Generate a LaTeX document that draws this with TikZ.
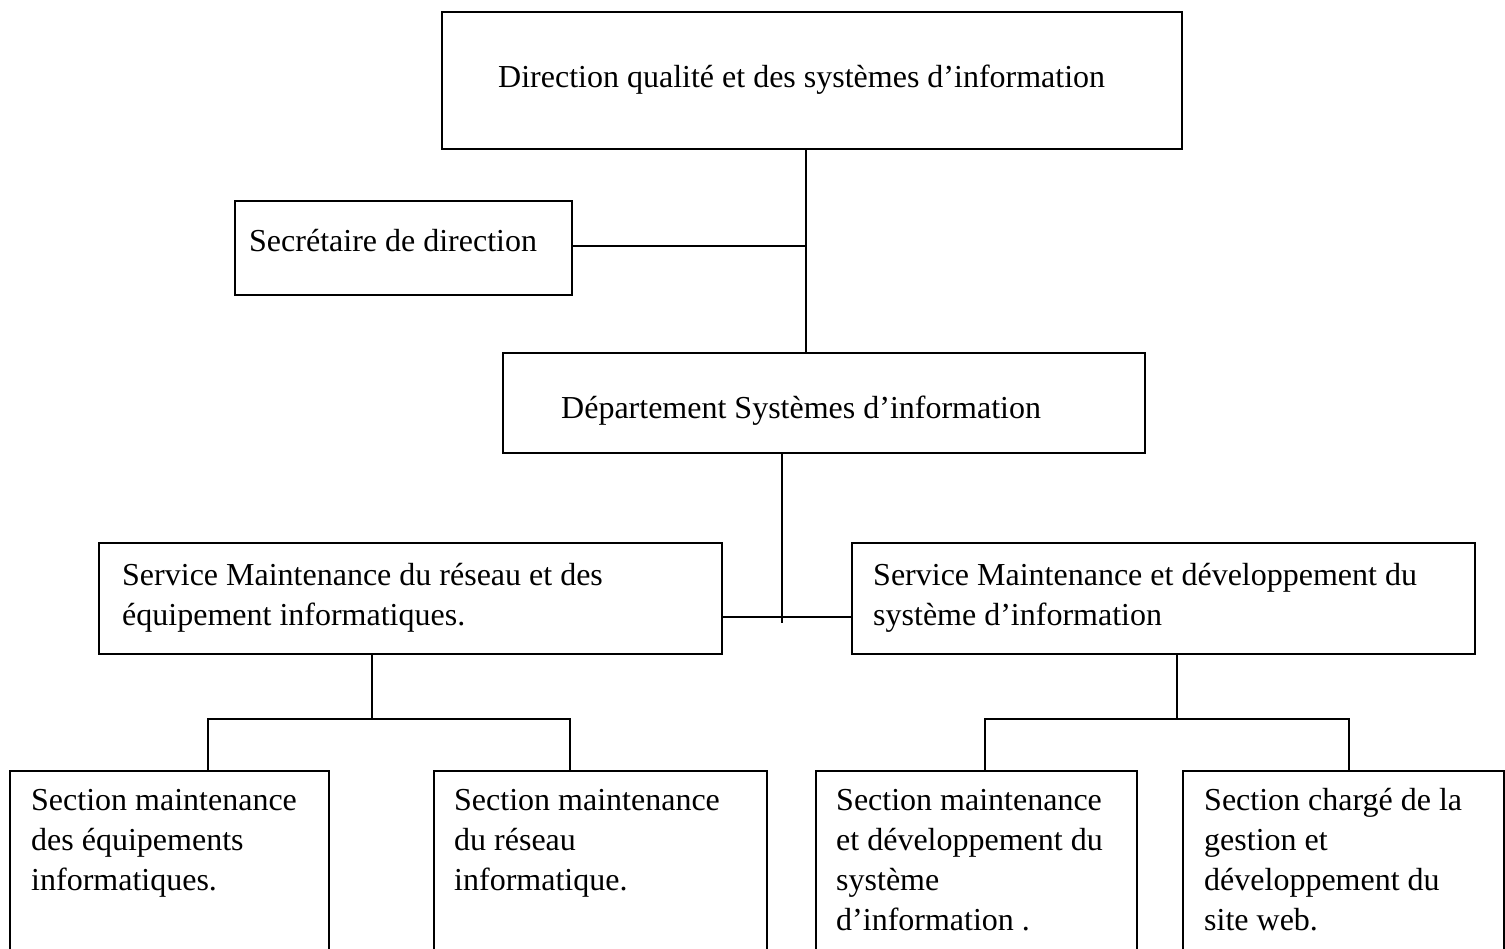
\documentclass[tikz,border=0pt]{standalone}
\usepackage{fontspec}
\setmainfont{Liberation Serif}
\usetikzlibrary{calc}

\tikzset{
  boite/.style={draw,line width=2.4pt,inner sep=0pt,anchor=north west},
  texte/.style={anchor=base west,inner sep=0pt,align=left,
    font=\fontsize{32}{39.7}\selectfont},
  lien/.style={line width=2.8pt},
  lienfin/.style={line width=1.8pt}
}

\begin{document}
\begin{tikzpicture}[x=1pt,y=-1pt]
\useasboundingbox (0,0) rectangle (1505,949);
\clip (0,0) rectangle (1505,949);

% boites
\node[boite,minimum width=740,minimum height=137] (dir) at (441,11) {};
\node[boite,minimum width=337,minimum height=94] (secr) at (234,200) {};
\node[boite,minimum width=642,minimum height=100] (dept) at (502,352) {};
\node[boite,minimum width=623,minimum height=111] (servA) at (98,542) {};
\node[boite,minimum width=623,minimum height=111] (servB) at (851,542) {};
\node[boite,minimum width=319,minimum height=240] (sectA) at (9,770) {};
\node[boite,minimum width=333,minimum height=240] (sectB) at (433,770) {};
\node[boite,minimum width=321,minimum height=240] (sectC) at (815,770) {};
\node[boite,minimum width=321,minimum height=240] (sectD) at (1182,770) {};

% textes (base = ligne du bas)
\node[texte] (dirT) at (498,88) {Direction qualité et des systèmes d’information};
\node[texte] (secrT) at (249,252) {Secrétaire de direction};
\node[texte] (deptT) at (561,419) {Département Systèmes d’information};
\node[texte] (servAT) at (122,625) {Service Maintenance du réseau et des\\équipement informatiques.};
\node[texte] (servBT) at (873,625) {Service Maintenance et développement du\\système d’information};
\node[texte] (sectAT) at (31,890) {Section maintenance\\des équipements\\informatiques.};
\node[texte] (sectBT) at (454,890) {Section maintenance\\du réseau\\informatique.};
\node[texte] (sectCT) at (836,930) {Section maintenance\\et développement du\\système\\d’information .};
\node[texte] (sectDT) at (1204,930) {Section chargé de la\\gestion et\\développement du\\site web.};

% jonctions
\coordinate (j1) at (806,246);
\coordinate (j2) at (782,617);
\coordinate (bA) at (372,719);
\coordinate (gA) at (208,719);
\coordinate (dA) at (570,719);
\coordinate (bB) at (1177,719);
\coordinate (gB) at (985,719);
\coordinate (dB) at (1349,719);

\draw[lien] (dir.south -| j1) -- (dept.north -| j1);
\draw[lien] (secr.east |- j1) -- (j1);

\draw[lienfin] (dept.south -| j2) -- ([yshift=-6pt]j2);
\draw[lienfin] (servA.east |- j2) -- (servB.west |- j2);

\draw[lien] (servA.south -| bA) -- (bA);
\draw[lien] (sectA.north -| gA) -- (gA) -- (dA) -- (sectB.north -| dA);

\draw[lien] (servB.south -| bB) -- (bB);
\draw[lien] (sectC.north -| gB) -- (gB) -- (dB) -- (sectD.north -| dB);
\end{tikzpicture}
\end{document}
